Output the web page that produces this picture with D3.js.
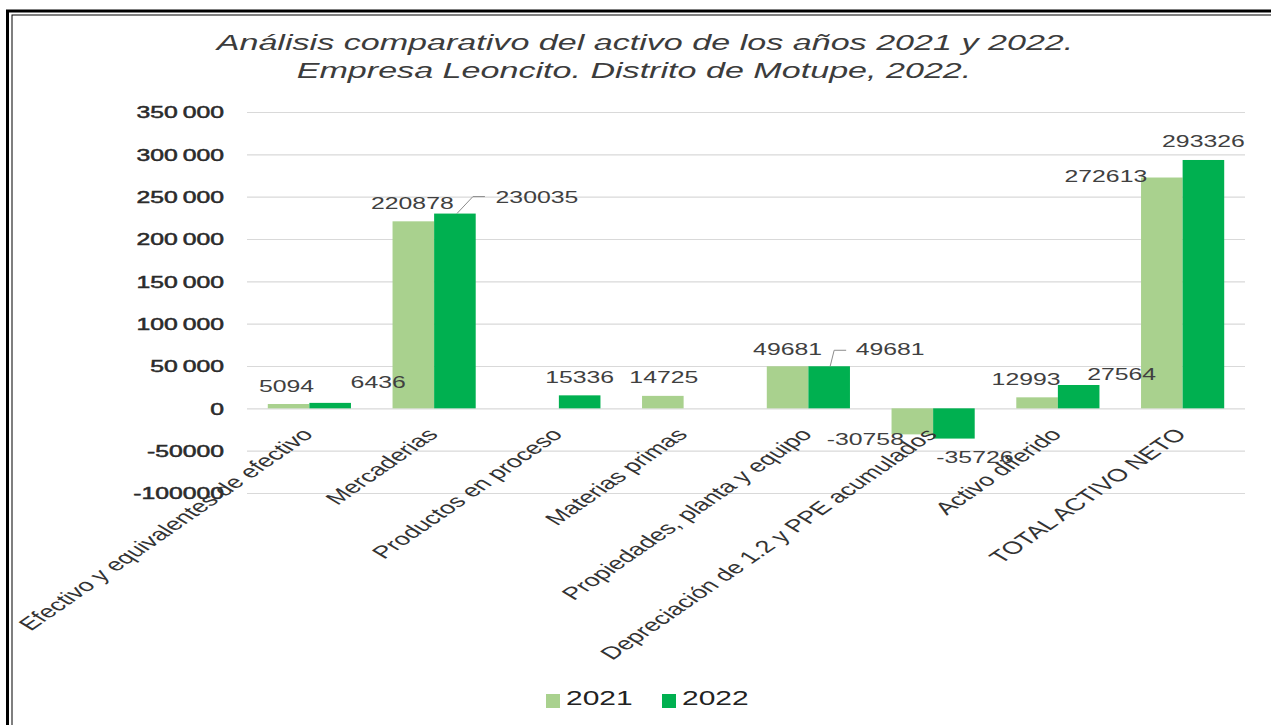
<!DOCTYPE html>
<html>
<head>
<meta charset="utf-8">
<script src="https://cdn.jsdelivr.net/npm/d3@7"></script>
<style>
  html, body { margin: 0; padding: 0; background: #ffffff; }
  svg { display: block; }
  text { font-family: "Liberation Sans", Arial, sans-serif; }
</style>
</head>
<body>
<svg id="chart" width="1271" height="725"></svg>
<script>
// ---- data ----
const categories = [
  "Efectivo y equivalentes de efectivo",
  "Mercaderias",
  "Productos en proceso",
  "Materias primas",
  "Propiedades, planta y equipo",
  "Depreciación de 1.2 y PPE acumulados",
  "Activo diferido",
  "TOTAL ACTIVO NETO"
];
const seriesNames = ["2021", "2022"];
const values2021 = [5094, 220878, null, 14725, 49681, -30758, 12993, 272613];
const values2022 = [6436, 230035, 15336, null, 49681, -35726, 27564, 293326];
const tickValues = [350000, 300000, 250000, 200000, 150000, 100000, 50000, 0, -50000, -100000];
const tickLabels = ["350\u2009000", "300\u2009000", "250\u2009000", "200\u2009000", "150\u2009000", "100\u2009000", "50\u2009000", "0", "-50000", "-100000"];
const titleLines = [
  "Análisis comparativo del activo de los años 2021 y 2022.",
  "Empresa Leoncito. Distrito de Motupe, 2022."
];

// ---- layout / style ----
const colors = { "2021": "#a9d18e", "2022": "#00b050" };
const S = 1.55;            // horizontal stretch of the source picture
const textColor = "#404040";
const titleCenters = [645, 634];
// label offsets relative to the bar's end (center x, end y)
const labelOffsets2021 = [[-2,-12],[-1,-12],[0,0],[1,-13],[0,-11.5],[-47,10.5],[-11,-12.5],[-56,4.4]];
const labelOffsets2022 = [[48,-15],[82,-10.6],[0,-12.5],[0,0],[61,-11.5],[21,24],[43,-5],[0,-12.7]];
const leaders2022 = { 1: [[2,0],[18,-17],[30,-17]], 4: [[1,0],[5,-16],[17,-16]] };

const svg = d3.select("#chart");
const plot = { left: 247, right: 1245, top: 112, bottom: 493 };

const y = d3.scaleLinear().domain([-100000, 350000]).range([plot.bottom, plot.top]);
const x0 = d3.scaleBand().domain(categories).range([plot.left, plot.right]).padding(0);
const x1 = d3.scaleBand().domain(seriesNames).range([0, x0.bandwidth()]).paddingInner(0).paddingOuter(0.5);

// frame (double line)
svg.append("rect").attr("x", 7.5).attr("y", 11).attr("width", 1300).attr("height", 800)
  .attr("fill", "none").attr("stroke", "#000").attr("stroke-width", 3);
svg.append("rect").attr("x", 12).attr("y", 15).attr("width", 1300).attr("height", 800)
  .attr("fill", "none").attr("stroke", "#000").attr("stroke-width", 1);

// title
titleLines.forEach((t, i) => {
  svg.append("text")
    .attr("transform", `translate(${titleCenters[i]},${50 + i * 28}) scale(${S},1)`)
    .attr("text-anchor", "middle")
    .attr("font-size", 22).attr("font-style", "italic")
    .attr("fill", "#3c3c3c").text(t);
});

// gridlines
const grid = svg.append("g").attr("transform", `translate(${plot.left},0)`)
  .call(d3.axisLeft(y).tickValues(tickValues).tickSize(-(plot.right - plot.left)).tickFormat(""));
grid.select(".domain").remove();
grid.selectAll("line").attr("stroke", "#d9d9d9").attr("stroke-width", 1.2);

// y tick labels
const yAxis = svg.append("g").attr("transform", `translate(${plot.left},0)`)
  .call(d3.axisLeft(y).tickValues(tickValues).tickSize(0)
    .tickFormat((d, i) => tickLabels[i]));
yAxis.select(".domain").remove();
yAxis.selectAll("text")
  .attr("x", 0).attr("dy", "0.36em")
  .attr("transform", `translate(-23,0) scale(1.5,1)`)
  .attr("font-size", 16.5).attr("font-weight", "normal").attr("fill", "#2b2b2b")
  .attr("stroke", "#2b2b2b").attr("stroke-width", 0.5)
  .attr("font-family", "'Liberation Sans', Arial, sans-serif")
  .attr("text-anchor", "end");

// bars
const seriesData = [values2021, values2022];
const groups = svg.append("g").selectAll("g").data(categories).join("g")
  .attr("transform", d => `translate(${x0(d)},0)`);
groups.selectAll("rect")
  .data((d, i) => seriesNames.map((s, k) => ({ s, v: seriesData[k][i] })).filter(o => o.v !== null))
  .join("rect")
  .attr("x", d => x1(d.s))
  .attr("width", x1.bandwidth())
  .attr("y", d => y(Math.max(0, d.v)))
  .attr("height", d => Math.abs(y(d.v) - y(0)))
  .attr("fill", d => colors[d.s]);

// category axis
const xAxis = svg.append("g").attr("transform", `translate(0,${y(0)})`)
  .call(d3.axisBottom(x0).tickSize(0));
xAxis.select(".domain").remove();
xAxis.selectAll("text")
  .attr("x", 0).attr("y", 0).attr("dy", 0)
  .attr("transform", `translate(5,27) scale(${S},1) rotate(-47)`)
  .attr("text-anchor", "end")
  .attr("font-size", 17.5).attr("fill", "#333")
  .attr("font-family", "'Liberation Sans', Arial, sans-serif");

// data labels + leader lines
const labelLayer = svg.append("g");
[values2021, values2022].forEach((vals, k) => {
  const offs = k === 0 ? labelOffsets2021 : labelOffsets2022;
  vals.forEach((v, i) => {
    if (v === null) return;
    const cx = x0(categories[i]) + x1(seriesNames[k]) + x1.bandwidth() / 2;
    const ey = y(v);
    labelLayer.append("text")
      .attr("transform", `translate(${cx + offs[i][0]},${ey + offs[i][1]}) scale(${S},1)`)
      .attr("text-anchor", "middle")
      .attr("font-size", 16).attr("fill", textColor)
      .text(v);
    if (k === 1 && leaders2022[i]) {
      const pts = leaders2022[i].map(p => [cx + p[0], ey + p[1]]);
      labelLayer.append("path").attr("d", d3.line()(pts))
        .attr("fill", "none").attr("stroke", "#8c8c8c").attr("stroke-width", 1);
    }
  });
});

// legend
const legend = svg.append("g");
const legendX = [546, 662];
seriesNames.forEach((s, k) => {
  legend.append("rect").attr("x", legendX[k]).attr("y", 694).attr("width", 14).attr("height", 14)
    .attr("fill", colors[s]);
  legend.append("text")
    .attr("transform", `translate(${legendX[k] + 20},705) scale(1.5,1)`)
    .attr("font-size", 20).attr("fill", "#222").text(s);
});
</script>
</body>
</html>
